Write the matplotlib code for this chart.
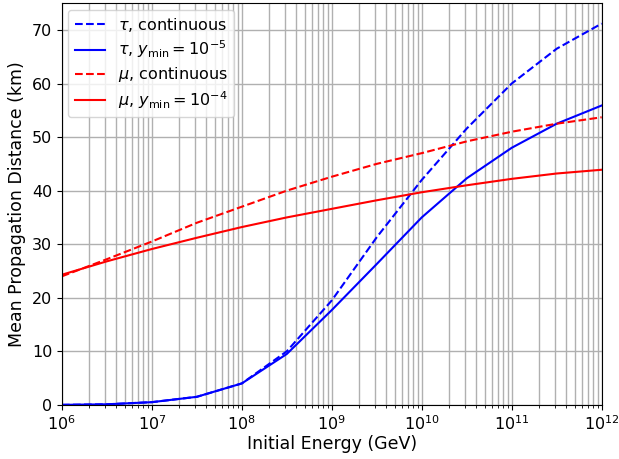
import numpy as np
import matplotlib
matplotlib.use('Agg')
import matplotlib.pyplot as plt

# initial energies (GeV), half-decade steps
energy = 10.0 ** np.arange(6.0, 12.01, 0.5)

# mean propagation distance (km)
tau_cont = [0.0, 0.1, 0.5, 1.5, 4.0, 10.0, 19.5, 31.3, 42.0, 51.6, 60.0, 66.5, 71.2]
tau_ymin = [0.0, 0.1, 0.5, 1.5, 4.0, 9.5, 17.7, 26.3, 35.0, 42.3, 48.0, 52.5, 55.9]
mu_cont = [24.0, 27.2, 30.5, 34.0, 37.0, 40.0, 42.6, 45.0, 47.0, 49.2, 51.0, 52.5, 53.7]
mu_ymin = [24.3, 26.8, 29.1, 31.2, 33.2, 35.0, 36.6, 38.2, 39.7, 41.0, 42.2, 43.2, 43.9]

fig, ax = plt.subplots(figsize=(6.19, 4.59), dpi=100)

ax.plot(energy, tau_cont, 'b--', lw=1.5, label=r'$\tau$, continuous')
ax.plot(energy, tau_ymin, 'b-', lw=1.5, label=r'$\tau$, $y_{\rm min}=10^{-5}$')
ax.plot(energy, mu_cont, 'r--', lw=1.5, label=r'$\mu$, continuous')
ax.plot(energy, mu_ymin, 'r-', lw=1.5, label=r'$\mu$, $y_{\rm min}=10^{-4}$')

ax.set_xscale('log')
ax.set_xlim(1e6, 1e12)
ax.set_ylim(0, 75)
ax.set_yticks(np.arange(0, 71, 10))
ax.grid(which='both', color='#b0b0b0', lw=1.0)
ax.tick_params(labelsize=11.5)

ax.set_xlabel('Initial Energy (GeV)', fontsize=12.5, labelpad=1)
ax.set_ylabel('Mean Propagation Distance (km)', fontsize=12.5)
ax.legend(loc='upper left', fontsize=11.5, handlelength=1.9,
          labelspacing=0.3, borderaxespad=0.4)

fig.subplots_adjust(left=0.1, right=0.972, bottom=0.118, top=0.993)
fig.savefig('out.png', dpi=100)
